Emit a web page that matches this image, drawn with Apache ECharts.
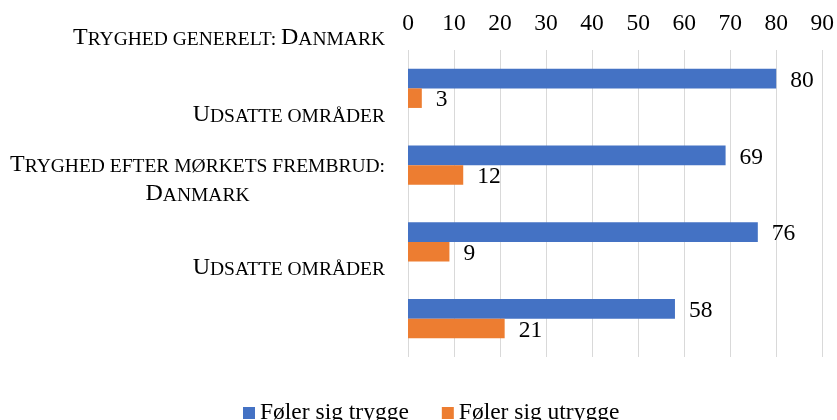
<!DOCTYPE html>
<html>
<head>
<meta charset="utf-8">
<script src="https://cdn.jsdelivr.net/npm/echarts@6/dist/echarts.min.js"></script>
<style>
  html, body { margin: 0; padding: 0; background: #fff; }
  #chart { width: 837px; height: 420px; }
</style>
</head>
<body>
<div id="chart"></div>
<script>
  "use strict";

  var categories = ['Tryghed generelt: Danmark', 'Udsatte områder', 'Tryghed efter mørkets frembrud:\nDanmark', 'Udsatte områder'];
  var trygge = [80, 69, 76, 58];
  var utrygge = [3, 12, 9, 21];
  var seriesNames = ['Føler sig trygge', 'Føler sig utrygge'];
  var xTicks = { min: 0, max: 90, step: 10 };

  var serif = 'Liberation Serif';
  var colors = { blue: '#4472C4', orange: '#ED7D31', grid: '#d9d9d9', text: '#000000' };

  // fake small caps with two font sizes (canvas has no font-variant)
  function smallCaps(str, big, small) {
    var out = '';
    var run = '', runStyle = null;
    for (var i = 0; i < str.length; i++) {
      var ch = str[i];
      var isCap = ch !== ch.toLowerCase();
      var st = isCap ? big : small;
      if (st !== runStyle && run) {
        out += '{' + runStyle + '|' + run + '}';
        run = '';
      }
      runStyle = st;
      run += ch.toUpperCase();
    }
    if (run) out += '{' + runStyle + '|' + run + '}';
    return out;
  }

  var chart = echarts.init(document.getElementById('chart'));

  var labelStyle = {
    show: true,
    position: 'right',
    distance: 14,
    offset: [0, 2],
    fontFamily: serif,
    fontSize: 23.5,
    color: colors.text
  };

  var option = {
    animation: false,
    color: [colors.blue, colors.orange],
    grid: {
      left: 408,
      right: 14,
      top: 50,
      bottom: 63,
      containLabel: false
    },
    legend: {
      top: 396,
      left: 238,
      icon: 'rect',
      itemWidth: 12,
      itemHeight: 12,
      itemGap: 33,
      textStyle: { fontFamily: serif, fontSize: 23.5, color: colors.text },
      data: seriesNames
    },
    xAxis: {
      type: 'value',
      position: 'top',
      min: xTicks.min,
      max: xTicks.max,
      interval: xTicks.step,
      axisLine: { show: false },
      axisTick: { show: false },
      splitLine: { show: true, lineStyle: { color: colors.grid, width: 1 } },
      axisLabel: {
        margin: 14,
        fontFamily: serif,
        fontSize: 23.5,
        color: colors.text
      }
    },
    yAxis: {
      type: 'category',
      inverse: true,
      data: categories,
      axisLine: { show: false },
      axisTick: { show: false },
      splitLine: { show: false },
      axisLabel: {
        margin: 23,
        padding: [0, 0, 101, 0],
        color: colors.text,
        fontFamily: serif,
        formatter: function (value) {
          var lines = value.split('\n');
          if (lines.length === 1) {
            return smallCaps(lines[0], 'b', 's');
          }
          return lines.map(function (l) { return smallCaps(l, 'bc', 'sc'); }).join('\n') + '\n{gap| }';
        },
        rich: {
          b: { fontFamily: serif, fontSize: 24, lineHeight: 24, verticalAlign: 'bottom', color: colors.text },
          s: { fontFamily: serif, fontSize: 19.5, lineHeight: 21, verticalAlign: 'bottom', color: colors.text },
          bc: { fontFamily: serif, fontSize: 24, lineHeight: 29, verticalAlign: 'bottom', align: 'center', color: colors.text },
          sc: { fontFamily: serif, fontSize: 19.5, lineHeight: 26, verticalAlign: 'bottom', align: 'center', color: colors.text },
          gap: { fontFamily: serif, fontSize: 10, lineHeight: 29 }
        }
      }
    },
    series: [
      {
        name: seriesNames[0],
        type: 'bar',
        data: trygge,
        barGap: '0%',
        barCategoryGap: '49%',
        itemStyle: { color: colors.blue },
        label: labelStyle
      },
      {
        name: seriesNames[1],
        type: 'bar',
        data: utrygge,
        barGap: '0%',
        barCategoryGap: '49%',
        itemStyle: { color: colors.orange },
        label: labelStyle
      }
    ]
  };

  chart.setOption(option);
</script>
</body>
</html>
